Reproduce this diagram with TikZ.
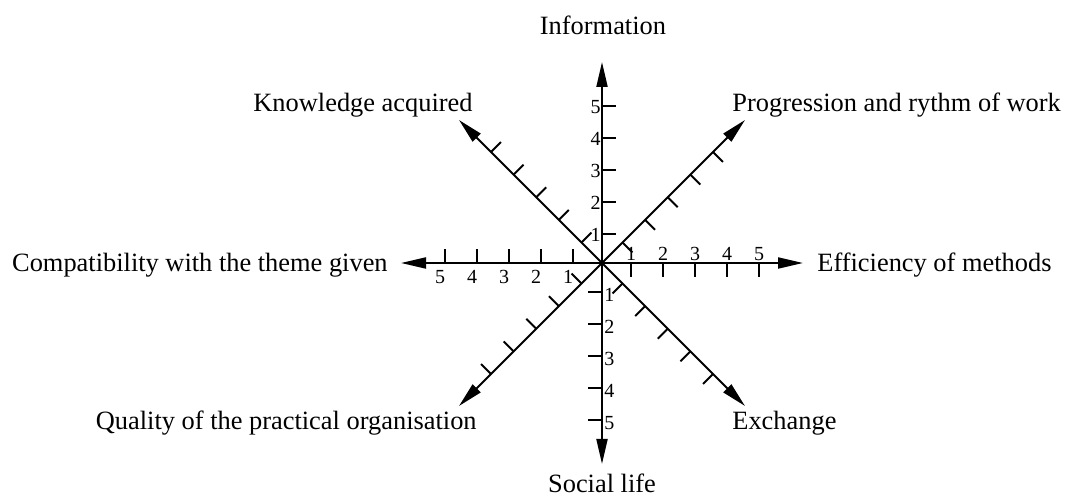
\documentclass[tikz,border=0pt]{standalone}
\usepackage{fontspec}
\setmainfont{Liberation Serif}
\usetikzlibrary{arrows.meta,calc}
\begin{document}
\begin{tikzpicture}[x=0.5pt,y=-0.5pt,
  axis/.style={line width=1pt,-{Triangle[length=12.5pt,width=5.5pt]}},
  tickmark/.style={line width=1pt},
  lbl/.style={font=\fontsize{13.2}{15}\selectfont, inner sep=0pt},
  num/.style={font=\fontsize{10}{11}\selectfont, inner sep=0pt}]
\useasboundingbox (0,0) rectangle (1066,496);
\coordinate (O) at (602,263);
\coordinate (E) at (803,263);
\coordinate (W) at (401,263);
\coordinate (N) at (602,62);
\coordinate (S) at (602,464);
\coordinate (NE) at (745,120);
\coordinate (NW) at (459,120);
\coordinate (SW) at (459,406);
\coordinate (SE) at (745,406);
\foreach \t/\a in {E/0,N/90,W/180,S/270,NE/45,NW/135,SW/225,SE/315} {
  \draw[axis] (O) -- (\t);
  \begin{scope}[shift={(O)}, rotate=\a]
    \foreach \d in {29,61,93,125,157} \draw[tickmark] (\d,0) -- (\d,14);
  \end{scope}
}
\foreach \k/\d in {1/29,2/61,3/93,4/125,5/157} {
  \node[num, anchor=south] (r\k) at ($(O)+(\d,-2)$) {\k};
  \node[num, anchor=north] (l\k) at ($(O)+(-\d-5,7)$) {\k};
  \node[num, anchor=east] (u\k) at ($(O)+(-1,-\d+1)$) {\k};
  \node[num, anchor=west] (d\k) at ($(O)+(2,\d+3)$) {\k};
}
\node[lbl, anchor=base] (info) at (603,35) {Information};
\node[lbl, anchor=base] (social) at (602,493) {Social life};
\node[lbl, anchor=base west] (eff) at (817,272) {Efficiency of methods};
\node[lbl, anchor=base east] (comp) at (388,272) {Compatibility with the theme given};
\node[lbl, anchor=base east] (know) at (473,112) {Knowledge acquired};
\node[lbl, anchor=base west] (prog) at (732,112) {Progression and rythm of work};
\node[lbl, anchor=base east] (qual) at (477,430) {Quality of the practical organisation};
\node[lbl, anchor=base west] (exch) at (732,430) {Exchange};
\end{tikzpicture}
\end{document}
